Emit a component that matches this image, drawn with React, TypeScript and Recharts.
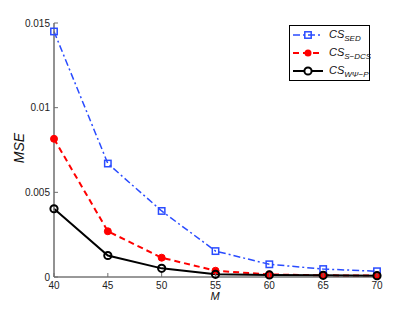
import React from 'react';
import { LineChart, Line, XAxis, YAxis } from 'recharts';

const mValues = [40, 45, 50, 55, 60, 65, 70];
const sedValues = [0.0145, 0.0067, 0.0039, 0.00153, 0.00075, 0.00047, 0.00034];
const sdcsValues = [0.00816, 0.0027, 0.00114, 0.00037, 0.00015, 0.0001, 0.00008];
const wpValues = [0.00403, 0.00127, 0.00051, 0.00016, 0.00012, 0.0001, 0.00008];
const xTicks = [40, 45, 50, 55, 60, 65, 70];
const yTicks = [0, 0.005, 0.01, 0.015];

const data = mValues.map((m, i) => ({ m, sed: sedValues[i], sdcs: sdcsValues[i], wp: wpValues[i] }));

const BLUE = '#2a4cff';
const RED = '#ff0000';
const FONT = '"Liberation Sans", Arial, sans-serif';
const AXIS = '#6e6e6e';

const YTickL = (p: any) => (
  <g>
    <line x1={p.x + 4} x2={p.x + 8} y1={p.y} y2={p.y} stroke={AXIS} />
    <text x={p.x} y={p.y} dy={3.5} textAnchor="end" fontSize={10} fill="#222" fontFamily={FONT}>
      {String(p.payload.value)}
    </text>
  </g>
);
const XTickB = (p: any) => (
  <g>
    <line x1={p.x} x2={p.x} y1={p.y - 2} y2={p.y - 6} stroke={AXIS} />
    <text x={p.x} y={p.y} dy={10} textAnchor="middle" fontSize={10} fill="#222" fontFamily={FONT}>
      {String(p.payload.value)}
    </text>
  </g>
);
const XTickT = (p: any) => (
  <line x1={p.x} x2={p.x} y1={p.y} y2={p.y + 4} stroke={AXIS} />
);
const YTickR = (p: any) => (
  <line x1={p.x} x2={p.x - 4} y1={p.y} y2={p.y} stroke={AXIS} />
);

const SquareDot = (p: any) => (
  <rect key={`s${p.index}`} x={p.cx - 3.2} y={p.cy - 3.2} width={6.4} height={6.4} fill="none" stroke={BLUE} strokeWidth={1.5} />
);
const RedDot = (p: any) => (
  <circle key={`r${p.index}`} cx={p.cx} cy={p.cy} r={3.5} fill={RED} stroke={RED} />
);
const BlackDot = (p: any) => (
  <circle key={`b${p.index}`} cx={p.cx} cy={p.cy} r={3.6} fill="none" stroke="#000" strokeWidth={2} />
);

const LegendBox = () => (
  <svg width={82} height={58} style={{ position: 'absolute', left: 289, top: 25 }}>
    <rect x={0.5} y={0.5} width={80} height={55} fill="#fff" stroke="#000" strokeWidth={1} />
    <line x1={4} x2={34} y1={10} y2={10} stroke={BLUE} strokeWidth={1.5} strokeDasharray="7 3 2 3" />
    <rect x={15.8} y={6.8} width={6.4} height={6.4} fill="none" stroke={BLUE} strokeWidth={1.5} />
    <line x1={4} x2={34} y1={28} y2={28} stroke={RED} strokeWidth={2} strokeDasharray="6 4" />
    <circle cx={19} cy={28} r={3.5} fill={RED} />
    <line x1={4} x2={34} y1={46} y2={46} stroke="#000" strokeWidth={2} />
    <circle cx={19} cy={46} r={3.6} fill="#fff" stroke="#000" strokeWidth={2} />
    <g fontFamily={FONT} fontStyle="italic" fill="#111">
      <text x={40} y={13} fontSize={11}>CS<tspan fontSize={8} dy={3}>SED</tspan></text>
      <text x={40} y={31} fontSize={11}>CS<tspan fontSize={8} dy={3}>S−DCS</tspan></text>
      <text x={40} y={49} fontSize={11}>CS<tspan fontSize={8} dy={3}>WΨ−P</tspan></text>
    </g>
  </svg>
);

export default function App() {
  return (
    <div style={{ position: 'absolute', left: 0, top: 0, width: 415, height: 312, background: '#fff' }}>
      <LineChart width={415} height={312} data={data} margin={{ top: 23, right: 38, bottom: 15, left: 4 }}>
        <XAxis dataKey="m" type="number" domain={[40, 70]} ticks={xTicks} height={20}
          axisLine={{ stroke: '#333' }} tickLine={false} tickSize={0} tickMargin={2} tick={<XTickB />} />
        <XAxis xAxisId="top" orientation="top" dataKey="m" type="number" domain={[40, 70]} ticks={xTicks} height={0}
          axisLine={{ stroke: AXIS }} tickLine={false} tickSize={0} tickMargin={0} tick={<XTickT />} />
        <YAxis type="number" domain={[0, 0.015]} ticks={yTicks} width={50}
          axisLine={{ stroke: AXIS, strokeWidth: 1.5 }} tickLine={false} tickSize={0} tickMargin={4} tick={<YTickL />} />
        <YAxis yAxisId="right" orientation="right" type="number" domain={[0, 0.015]} ticks={yTicks} width={0}
          axisLine={{ stroke: '#222' }} tickLine={false} tickSize={0} tickMargin={0} tick={<YTickR />} />
        <Line dataKey="sed" stroke={BLUE} strokeWidth={1.5} strokeDasharray="7 3 2 3" dot={<SquareDot />} isAnimationActive={false} />
        <Line dataKey="sdcs" stroke={RED} strokeWidth={2} strokeDasharray="6 4" dot={<RedDot />} isAnimationActive={false} />
        <Line dataKey="wp" stroke="#000" strokeWidth={2} dot={<BlackDot />} isAnimationActive={false} />
      </LineChart>
      <LegendBox />
      <div style={{ position: 'absolute', left: 19, top: 148, transform: 'translate(-50%, -50%) rotate(-90deg)', fontFamily: FONT, fontStyle: 'italic', fontSize: 14, color: '#111', whiteSpace: 'nowrap' }}>MSE</div>
      <div style={{ position: 'absolute', left: 215, top: 296, transform: 'translate(-50%, -50%)', fontFamily: FONT, fontStyle: 'italic', fontSize: 11, color: '#111' }}>M</div>
    </div>
  );
}
